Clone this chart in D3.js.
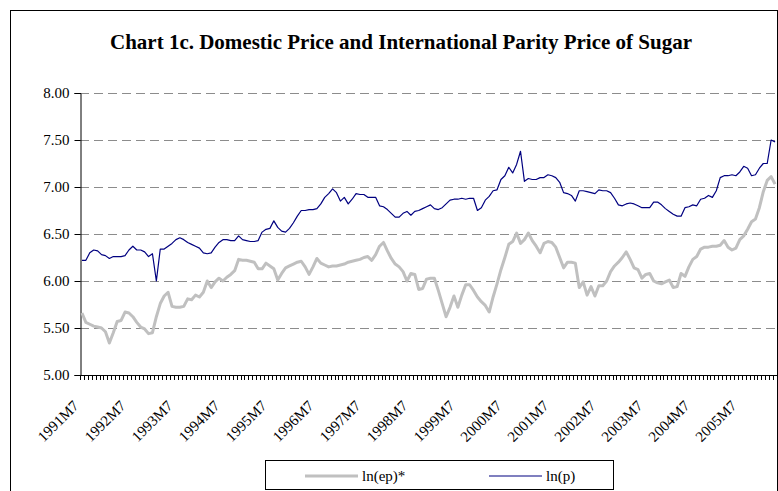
<!DOCTYPE html>
<html>
<head>
<meta charset="utf-8">
<script src="https://cdn.jsdelivr.net/npm/d3@7"></script>
<style>
  body { margin: 0; background: #fff; }
  svg text { font-family: "Liberation Serif", "Times New Roman", serif; }
</style>
</head>
<body>
<svg id="chart" width="778" height="491"></svg>
<script>
// monthly categories 1991M7 .. 2006M4
const startYear = 1991, startMonth = 7, nMonths = 178;
const months = [];
for (let k = 0; k < nMonths; k++) {
    const m = startMonth - 1 + k;
    months.push((startYear + Math.floor(m / 12)) + "M" + ((m % 12) + 1));
}

const tickLabels = ["1991M7", "1992M7", "1993M7", "1994M7", "1995M7", "1996M7", "1997M7",
    "1998M7", "1999M7", "2000M7", "2001M7", "2002M7", "2003M7", "2004M7", "2005M7"];

const yTicks = [5.0, 5.5, 6.0, 6.5, 7.0, 7.5, 8.0];

// ln(ep)* - international parity price
const lnEp = [
    5.66, 5.56, 5.54, 5.52, 5.51, 5.50, 5.46, 5.34, 5.45, 5.57, 5.58, 5.67,
    5.66, 5.62, 5.56, 5.51, 5.49, 5.44, 5.45, 5.62, 5.76, 5.84, 5.88, 5.73,
    5.72, 5.72, 5.73, 5.81, 5.80, 5.85, 5.83, 5.88, 6.00, 5.93, 5.99, 6.03,
    6.00, 6.04, 6.07, 6.11, 6.23, 6.22, 6.22, 6.21, 6.20, 6.13, 6.13, 6.19,
    6.16, 6.13, 6.01, 6.08, 6.14, 6.16, 6.18, 6.20, 6.21, 6.15, 6.07, 6.15,
    6.24, 6.19, 6.17, 6.15, 6.16, 6.16, 6.17, 6.18, 6.20, 6.21, 6.22, 6.23,
    6.25, 6.26, 6.22, 6.28, 6.37, 6.41, 6.32, 6.24, 6.18, 6.15, 6.10, 6.00,
    6.08, 6.07, 5.91, 5.92, 6.02, 6.03, 6.03, 5.90, 5.76, 5.62, 5.72, 5.84,
    5.72, 5.85, 5.96, 5.96, 5.90, 5.83, 5.78, 5.74, 5.67, 5.83, 5.97, 6.12,
    6.25, 6.39, 6.42, 6.51, 6.40, 6.44, 6.51, 6.43, 6.37, 6.30, 6.40, 6.42,
    6.41, 6.36, 6.25, 6.14, 6.20, 6.20, 6.19, 5.93, 5.99, 5.85, 5.94, 5.84,
    5.95, 5.95, 6.00, 6.10, 6.16, 6.20, 6.25, 6.31, 6.23, 6.14, 6.12, 6.03,
    6.07, 6.08, 6.00, 5.98, 5.97, 5.99, 6.01, 5.93, 5.94, 6.08, 6.05, 6.15,
    6.23, 6.26, 6.34, 6.36, 6.36, 6.37, 6.37, 6.38, 6.43, 6.36, 6.33, 6.35,
    6.44, 6.48, 6.55, 6.63, 6.66, 6.78, 6.95, 7.07, 7.11, 7.03
];

// ln(p) - domestic price
const lnP = [
    6.22, 6.22, 6.30, 6.33, 6.32, 6.28, 6.27, 6.24, 6.26, 6.26, 6.26, 6.27,
    6.33, 6.37, 6.33, 6.33, 6.31, 6.26, 6.29, 6.00, 6.34, 6.34, 6.37, 6.40,
    6.44, 6.46, 6.44, 6.41, 6.39, 6.37, 6.35, 6.30, 6.29, 6.30, 6.36, 6.41,
    6.44, 6.44, 6.43, 6.43, 6.48, 6.44, 6.43, 6.42, 6.42, 6.43, 6.52, 6.55,
    6.56, 6.64, 6.57, 6.53, 6.52, 6.56, 6.62, 6.69, 6.75, 6.75, 6.76, 6.76,
    6.77, 6.82, 6.89, 6.93, 6.98, 6.94, 6.85, 6.89, 6.82, 6.87, 6.93, 6.92,
    6.92, 6.89, 6.89, 6.89, 6.80, 6.79, 6.76, 6.72, 6.68, 6.68, 6.72, 6.74,
    6.70, 6.74, 6.75, 6.77, 6.79, 6.81, 6.77, 6.76, 6.78, 6.82, 6.86, 6.87,
    6.87, 6.88, 6.87, 6.88, 6.88, 6.75, 6.78, 6.86, 6.90, 6.96, 6.97, 7.08,
    7.12, 7.21, 7.15, 7.24, 7.38, 7.06, 7.09, 7.08, 7.08, 7.10, 7.10, 7.13,
    7.12, 7.10, 7.05, 6.94, 6.93, 6.91, 6.85, 6.96, 6.96, 6.95, 6.94, 6.93,
    6.97, 6.96, 6.96, 6.94, 6.88, 6.81, 6.80, 6.82, 6.83, 6.82, 6.80, 6.78,
    6.78, 6.78, 6.84, 6.84, 6.81, 6.77, 6.74, 6.71, 6.69, 6.69, 6.78, 6.79,
    6.81, 6.80, 6.87, 6.88, 6.91, 6.89, 6.96, 7.10, 7.12, 7.12, 7.13, 7.12,
    7.16, 7.22, 7.20, 7.12, 7.13, 7.20, 7.25, 7.25, 7.50, 7.48
];

const series = [
    { name: "ln(ep)*", values: lnEp, color: "#c0c0c0", width: 3 },
    { name: "ln(p)", values: lnP, color: "#000080", width: 1.2 }
];

const svg = d3.select("#chart");
const plotLeft = 80, plotRight = 777, plotTop = 93, plotBottom = 375;

// outer chart border
svg.append("rect")
    .attr("x", 10.5).attr("y", 10.5)
    .attr("width", 767).attr("height", 500)
    .attr("fill", "none").attr("stroke", "#000").attr("stroke-width", 1);

svg.append("text")
    .attr("x", 401).attr("y", 49)
    .attr("text-anchor", "middle")
    .style("font-size", "21px").style("font-weight", "bold")
    .text("Chart 1c. Domestic Price and International Parity Price of Sugar");

const x = d3.scaleBand().domain(months).range([plotLeft, plotRight]).padding(0);
const y = d3.scaleLinear().domain([5, 8]).range([plotBottom, plotTop]);
const cx = m => x(m) + x.bandwidth() / 2;

// dashed grid lines
svg.append("g")
    .selectAll("line")
    .data(yTicks.filter(v => v > 5))
    .join("line")
    .attr("x1", plotLeft).attr("x2", plotRight)
    .attr("y1", d => Math.round(y(d)) + 0.5).attr("y2", d => Math.round(y(d)) + 0.5)
    .attr("stroke", "#8c8c8c")
    .attr("stroke-dasharray", "9,5");

// y axis
const yAxis = svg.append("g")
    .attr("transform", "translate(" + (plotLeft + 0.5) + ",0)")
    .call(d3.axisLeft(y).tickValues(yTicks).tickFormat(d3.format(".2f")).tickSize(6).tickPadding(5));
yAxis.select(".domain").attr("stroke", "#000");
yAxis.selectAll("text").style("font-size", "15px").attr("fill", "#000")
    .style("font-family", "'Liberation Serif', serif");

// x axis: line + monthly ticks at category boundaries
const xg = svg.append("g");
xg.append("line")
    .attr("x1", plotLeft).attr("x2", plotRight)
    .attr("y1", plotBottom + 0.5).attr("y2", plotBottom + 0.5)
    .attr("stroke", "#000");
xg.selectAll(".tk")
    .data(months.map(m => x(m)).concat([plotRight]))
    .join("line")
    .attr("class", "tk")
    .attr("x1", d => Math.round(d) + 0.5).attr("x2", d => Math.round(d) + 0.5)
    .attr("y1", plotBottom).attr("y2", plotBottom + 5)
    .attr("stroke", "#000");
xg.selectAll(".lbl")
    .data(tickLabels)
    .join("text")
    .attr("class", "lbl")
    .attr("transform", d => "translate(" + (cx(d) - 6) + "," + (plotBottom + 28) + ") rotate(-45)")
    .attr("text-anchor", "end")
    .attr("dy", "0.35em")
    .style("font-size", "15px")
    .text(d => d);

// lines
const line = d3.line()
    .x((d, i) => cx(months[i]))
    .y(d => y(d));

svg.selectAll(".series")
    .data(series)
    .join("path")
    .attr("class", "series")
    .attr("d", d => line(d.values))
    .attr("fill", "none")
    .attr("stroke", d => d.color)
    .attr("stroke-width", d => d.width)
    .attr("stroke-linejoin", "round");

// legend
const lg = svg.append("g");
lg.append("rect")
    .attr("x", 265.5).attr("y", 460.5)
    .attr("width", 348).attr("height", 29)
    .attr("fill", "#fff").attr("stroke", "#000");
const items = lg.selectAll(".item")
    .data(series)
    .join("g")
    .attr("class", "item")
    .attr("transform", (d, i) => "translate(" + (305 + i * 184) + ",476)");
items.append("line")
    .attr("x1", 0).attr("x2", 53)
    .attr("stroke", d => d.color)
    .attr("stroke-width", d => d.width);
items.append("text")
    .attr("x", 57).attr("dy", "0.35em")
    .style("font-size", "15px")
    .text(d => d.name);
</script>
</body>
</html>
